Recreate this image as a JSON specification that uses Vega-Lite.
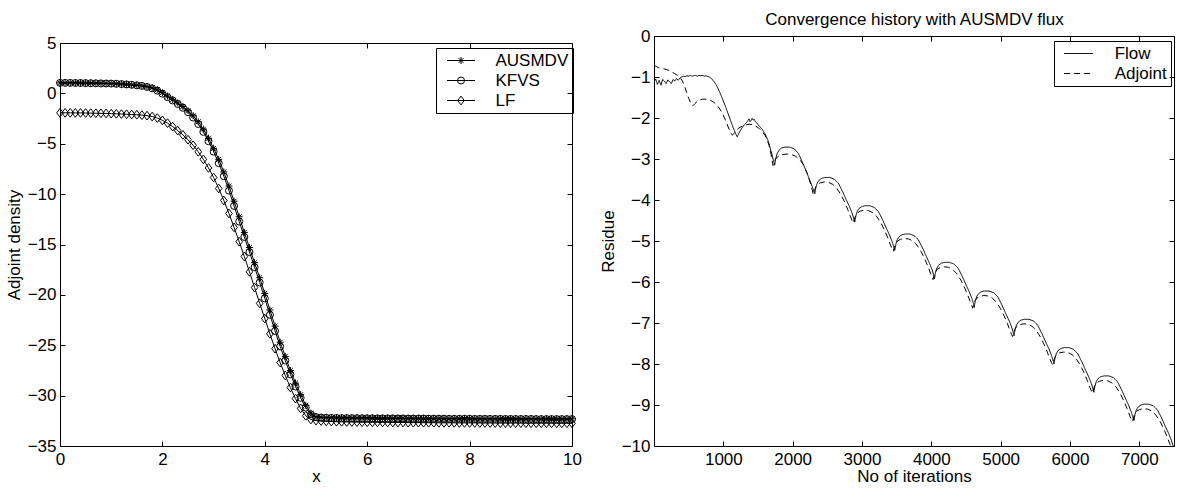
{
"$schema":"https://vega.github.io/schema/vega-lite/v6.json",
"background":"white",
"padding":{"left":5,"top":10,"right":5,"bottom":0},
"spacing":17,
"config":{
 "font":"Liberation Sans",
 "view":{"stroke":null},
 "axis":{"labelFont":"Liberation Sans","titleFont":"Liberation Sans","labelFontSize":17,"titleFontSize":17,"titleFontWeight":"normal","labelColor":"black","titleColor":"black","domainColor":"black","tickColor":"black","domainWidth":1,"tickWidth":1,"tickSize":-5,"grid":false,"labelFlush":false,"labelOverlap":false,"minExtent":0},
 "legend":{"labelFont":"Liberation Sans","labelFontSize":17,"labelColor":"black"}
},
"datasets":{
"adj":[
{"x":0,"m":"AUSMDV","v":1.05},{"x":0.1,"m":"AUSMDV","v":1.05},{"x":0.2,"m":"AUSMDV","v":1.05},{"x":0.3,"m":"AUSMDV","v":1.04},{"x":0.4,"m":"AUSMDV","v":1.04},{"x":0.5,"m":"AUSMDV","v":1.03},{"x":0.6,"m":"AUSMDV","v":1.02},{"x":0.7,"m":"AUSMDV","v":1.01},{"x":0.8,"m":"AUSMDV","v":1.0},{"x":0.9,"m":"AUSMDV","v":0.99},
{"x":1,"m":"AUSMDV","v":0.98},{"x":1.1,"m":"AUSMDV","v":0.96},{"x":1.2,"m":"AUSMDV","v":0.93},{"x":1.3,"m":"AUSMDV","v":0.9},{"x":1.4,"m":"AUSMDV","v":0.86},{"x":1.5,"m":"AUSMDV","v":0.82},{"x":1.6,"m":"AUSMDV","v":0.77},{"x":1.7,"m":"AUSMDV","v":0.68},{"x":1.8,"m":"AUSMDV","v":0.56},{"x":1.9,"m":"AUSMDV","v":0.36},
{"x":2,"m":"AUSMDV","v":0.07},{"x":2.1,"m":"AUSMDV","v":-0.27},{"x":2.2,"m":"AUSMDV","v":-0.6},{"x":2.3,"m":"AUSMDV","v":-0.94},{"x":2.4,"m":"AUSMDV","v":-1.3},{"x":2.5,"m":"AUSMDV","v":-1.72},{"x":2.6,"m":"AUSMDV","v":-2.22},{"x":2.7,"m":"AUSMDV","v":-2.82},{"x":2.8,"m":"AUSMDV","v":-3.55},{"x":2.9,"m":"AUSMDV","v":-4.45},
{"x":3,"m":"AUSMDV","v":-5.45},{"x":3.1,"m":"AUSMDV","v":-6.55},{"x":3.2,"m":"AUSMDV","v":-7.8},{"x":3.3,"m":"AUSMDV","v":-9.2},{"x":3.4,"m":"AUSMDV","v":-10.7},{"x":3.5,"m":"AUSMDV","v":-12.25},{"x":3.6,"m":"AUSMDV","v":-13.8},{"x":3.7,"m":"AUSMDV","v":-15.3},{"x":3.8,"m":"AUSMDV","v":-16.8},{"x":3.9,"m":"AUSMDV","v":-18.3},
{"x":4,"m":"AUSMDV","v":-19.85},{"x":4.1,"m":"AUSMDV","v":-21.5},{"x":4.2,"m":"AUSMDV","v":-23.1},{"x":4.3,"m":"AUSMDV","v":-24.7},{"x":4.4,"m":"AUSMDV","v":-26.1},{"x":4.5,"m":"AUSMDV","v":-27.5},{"x":4.6,"m":"AUSMDV","v":-28.75},{"x":4.7,"m":"AUSMDV","v":-29.9},{"x":4.8,"m":"AUSMDV","v":-30.95},{"x":4.9,"m":"AUSMDV","v":-31.75},
{"x":5,"m":"AUSMDV","v":-32.1},{"x":5.1,"m":"AUSMDV","v":-32.15},{"x":5.2,"m":"AUSMDV","v":-32.17},{"x":5.3,"m":"AUSMDV","v":-32.18},{"x":5.4,"m":"AUSMDV","v":-32.19},{"x":5.5,"m":"AUSMDV","v":-32.2},{"x":5.6,"m":"AUSMDV","v":-32.2},{"x":5.7,"m":"AUSMDV","v":-32.21},{"x":5.8,"m":"AUSMDV","v":-32.21},{"x":5.9,"m":"AUSMDV","v":-32.22},
{"x":6,"m":"AUSMDV","v":-32.22},{"x":6.1,"m":"AUSMDV","v":-32.22},{"x":6.2,"m":"AUSMDV","v":-32.23},{"x":6.3,"m":"AUSMDV","v":-32.23},{"x":6.4,"m":"AUSMDV","v":-32.23},{"x":6.5,"m":"AUSMDV","v":-32.24},{"x":6.6,"m":"AUSMDV","v":-32.24},{"x":6.7,"m":"AUSMDV","v":-32.24},{"x":6.8,"m":"AUSMDV","v":-32.25},{"x":6.9,"m":"AUSMDV","v":-32.25},
{"x":7,"m":"AUSMDV","v":-32.25},{"x":7.1,"m":"AUSMDV","v":-32.25},{"x":7.2,"m":"AUSMDV","v":-32.26},{"x":7.3,"m":"AUSMDV","v":-32.26},{"x":7.4,"m":"AUSMDV","v":-32.26},{"x":7.5,"m":"AUSMDV","v":-32.26},{"x":7.6,"m":"AUSMDV","v":-32.27},{"x":7.7,"m":"AUSMDV","v":-32.27},{"x":7.8,"m":"AUSMDV","v":-32.27},{"x":7.9,"m":"AUSMDV","v":-32.27},
{"x":8,"m":"AUSMDV","v":-32.27},{"x":8.1,"m":"AUSMDV","v":-32.28},{"x":8.2,"m":"AUSMDV","v":-32.28},{"x":8.3,"m":"AUSMDV","v":-32.28},{"x":8.4,"m":"AUSMDV","v":-32.28},{"x":8.5,"m":"AUSMDV","v":-32.28},{"x":8.6,"m":"AUSMDV","v":-32.28},{"x":8.7,"m":"AUSMDV","v":-32.29},{"x":8.8,"m":"AUSMDV","v":-32.29},{"x":8.9,"m":"AUSMDV","v":-32.29},
{"x":9,"m":"AUSMDV","v":-32.29},{"x":9.1,"m":"AUSMDV","v":-32.29},{"x":9.2,"m":"AUSMDV","v":-32.29},{"x":9.3,"m":"AUSMDV","v":-32.3},{"x":9.4,"m":"AUSMDV","v":-32.3},{"x":9.5,"m":"AUSMDV","v":-32.3},{"x":9.6,"m":"AUSMDV","v":-32.3},{"x":9.7,"m":"AUSMDV","v":-32.3},{"x":9.8,"m":"AUSMDV","v":-32.3},{"x":9.9,"m":"AUSMDV","v":-32.3},{"x":10,"m":"AUSMDV","v":-32.3},
{"x":0,"m":"KFVS","v":1.04},{"x":0.1,"m":"KFVS","v":1.04},{"x":0.2,"m":"KFVS","v":1.04},{"x":0.3,"m":"KFVS","v":1.03},{"x":0.4,"m":"KFVS","v":1.03},{"x":0.5,"m":"KFVS","v":1.02},{"x":0.6,"m":"KFVS","v":1.01},{"x":0.7,"m":"KFVS","v":1.0},{"x":0.8,"m":"KFVS","v":0.99},{"x":0.9,"m":"KFVS","v":0.98},
{"x":1,"m":"KFVS","v":0.97},{"x":1.1,"m":"KFVS","v":0.95},{"x":1.2,"m":"KFVS","v":0.92},{"x":1.3,"m":"KFVS","v":0.89},{"x":1.4,"m":"KFVS","v":0.85},{"x":1.5,"m":"KFVS","v":0.8},{"x":1.6,"m":"KFVS","v":0.74},{"x":1.7,"m":"KFVS","v":0.64},{"x":1.8,"m":"KFVS","v":0.5},{"x":1.9,"m":"KFVS","v":0.27},
{"x":2,"m":"KFVS","v":-0.03},{"x":2.1,"m":"KFVS","v":-0.37},{"x":2.2,"m":"KFVS","v":-0.7},{"x":2.3,"m":"KFVS","v":-1.05},{"x":2.4,"m":"KFVS","v":-1.43},{"x":2.5,"m":"KFVS","v":-1.87},{"x":2.6,"m":"KFVS","v":-2.4},{"x":2.7,"m":"KFVS","v":-3.04},{"x":2.8,"m":"KFVS","v":-3.82},{"x":2.9,"m":"KFVS","v":-4.75},
{"x":3,"m":"KFVS","v":-5.78},{"x":3.1,"m":"KFVS","v":-6.93},{"x":3.2,"m":"KFVS","v":-8.22},{"x":3.3,"m":"KFVS","v":-9.65},{"x":3.4,"m":"KFVS","v":-11.17},{"x":3.5,"m":"KFVS","v":-12.72},{"x":3.6,"m":"KFVS","v":-14.25},{"x":3.7,"m":"KFVS","v":-15.75},{"x":3.8,"m":"KFVS","v":-17.25},{"x":3.9,"m":"KFVS","v":-18.77},
{"x":4,"m":"KFVS","v":-20.35},{"x":4.1,"m":"KFVS","v":-21.98},{"x":4.2,"m":"KFVS","v":-23.58},{"x":4.3,"m":"KFVS","v":-25.12},{"x":4.4,"m":"KFVS","v":-26.52},{"x":4.5,"m":"KFVS","v":-27.88},{"x":4.6,"m":"KFVS","v":-29.1},{"x":4.7,"m":"KFVS","v":-30.22},{"x":4.8,"m":"KFVS","v":-31.19},{"x":4.9,"m":"KFVS","v":-31.86},
{"x":5,"m":"KFVS","v":-32.13},{"x":5.1,"m":"KFVS","v":-32.18},{"x":5.2,"m":"KFVS","v":-32.2},{"x":5.3,"m":"KFVS","v":-32.21},{"x":5.4,"m":"KFVS","v":-32.22},{"x":5.5,"m":"KFVS","v":-32.23},{"x":5.6,"m":"KFVS","v":-32.23},{"x":5.7,"m":"KFVS","v":-32.24},{"x":5.8,"m":"KFVS","v":-32.24},{"x":5.9,"m":"KFVS","v":-32.25},
{"x":6,"m":"KFVS","v":-32.25},{"x":6.1,"m":"KFVS","v":-32.25},{"x":6.2,"m":"KFVS","v":-32.26},{"x":6.3,"m":"KFVS","v":-32.26},{"x":6.4,"m":"KFVS","v":-32.26},{"x":6.5,"m":"KFVS","v":-32.27},{"x":6.6,"m":"KFVS","v":-32.27},{"x":6.7,"m":"KFVS","v":-32.27},{"x":6.8,"m":"KFVS","v":-32.28},{"x":6.9,"m":"KFVS","v":-32.28},
{"x":7,"m":"KFVS","v":-32.28},{"x":7.1,"m":"KFVS","v":-32.28},{"x":7.2,"m":"KFVS","v":-32.29},{"x":7.3,"m":"KFVS","v":-32.29},{"x":7.4,"m":"KFVS","v":-32.29},{"x":7.5,"m":"KFVS","v":-32.29},{"x":7.6,"m":"KFVS","v":-32.3},{"x":7.7,"m":"KFVS","v":-32.3},{"x":7.8,"m":"KFVS","v":-32.3},{"x":7.9,"m":"KFVS","v":-32.3},
{"x":8,"m":"KFVS","v":-32.3},{"x":8.1,"m":"KFVS","v":-32.31},{"x":8.2,"m":"KFVS","v":-32.31},{"x":8.3,"m":"KFVS","v":-32.31},{"x":8.4,"m":"KFVS","v":-32.31},{"x":8.5,"m":"KFVS","v":-32.31},{"x":8.6,"m":"KFVS","v":-32.31},{"x":8.7,"m":"KFVS","v":-32.32},{"x":8.8,"m":"KFVS","v":-32.32},{"x":8.9,"m":"KFVS","v":-32.32},
{"x":9,"m":"KFVS","v":-32.32},{"x":9.1,"m":"KFVS","v":-32.32},{"x":9.2,"m":"KFVS","v":-32.32},{"x":9.3,"m":"KFVS","v":-32.33},{"x":9.4,"m":"KFVS","v":-32.33},{"x":9.5,"m":"KFVS","v":-32.33},{"x":9.6,"m":"KFVS","v":-32.33},{"x":9.7,"m":"KFVS","v":-32.33},{"x":9.8,"m":"KFVS","v":-32.33},{"x":9.9,"m":"KFVS","v":-32.33},{"x":10,"m":"KFVS","v":-32.33},
{"x":0,"m":"LF","v":-1.93},{"x":0.1,"m":"LF","v":-1.93},{"x":0.2,"m":"LF","v":-1.93},{"x":0.3,"m":"LF","v":-1.94},{"x":0.4,"m":"LF","v":-1.94},{"x":0.5,"m":"LF","v":-1.95},{"x":0.6,"m":"LF","v":-1.96},{"x":0.7,"m":"LF","v":-1.97},{"x":0.8,"m":"LF","v":-1.98},{"x":0.9,"m":"LF","v":-1.99},
{"x":1,"m":"LF","v":-2.01},{"x":1.1,"m":"LF","v":-2.03},{"x":1.2,"m":"LF","v":-2.05},{"x":1.3,"m":"LF","v":-2.07},{"x":1.4,"m":"LF","v":-2.1},{"x":1.5,"m":"LF","v":-2.12},{"x":1.6,"m":"LF","v":-2.16},{"x":1.7,"m":"LF","v":-2.21},{"x":1.8,"m":"LF","v":-2.3},{"x":1.9,"m":"LF","v":-2.45},
{"x":2,"m":"LF","v":-2.68},{"x":2.1,"m":"LF","v":-2.95},{"x":2.2,"m":"LF","v":-3.3},{"x":2.3,"m":"LF","v":-3.7},{"x":2.4,"m":"LF","v":-4.12},{"x":2.5,"m":"LF","v":-4.6},{"x":2.6,"m":"LF","v":-5.15},{"x":2.7,"m":"LF","v":-5.8},{"x":2.8,"m":"LF","v":-6.55},{"x":2.9,"m":"LF","v":-7.4},
{"x":3,"m":"LF","v":-8.35},{"x":3.1,"m":"LF","v":-9.44},{"x":3.2,"m":"LF","v":-10.63},{"x":3.3,"m":"LF","v":-11.92},{"x":3.4,"m":"LF","v":-13.3},{"x":3.5,"m":"LF","v":-14.72},{"x":3.6,"m":"LF","v":-16.19},{"x":3.7,"m":"LF","v":-17.71},{"x":3.8,"m":"LF","v":-19.27},{"x":3.9,"m":"LF","v":-20.84},
{"x":4,"m":"LF","v":-22.35},{"x":4.1,"m":"LF","v":-23.87},{"x":4.2,"m":"LF","v":-25.34},{"x":4.3,"m":"LF","v":-26.72},{"x":4.4,"m":"LF","v":-28.0},{"x":4.5,"m":"LF","v":-29.2},{"x":4.6,"m":"LF","v":-30.3},{"x":4.7,"m":"LF","v":-31.27},{"x":4.8,"m":"LF","v":-32.0},{"x":4.9,"m":"LF","v":-32.37},
{"x":5,"m":"LF","v":-32.48},{"x":5.1,"m":"LF","v":-32.52},{"x":5.2,"m":"LF","v":-32.55},{"x":5.3,"m":"LF","v":-32.57},{"x":5.4,"m":"LF","v":-32.59},{"x":5.5,"m":"LF","v":-32.6},{"x":5.6,"m":"LF","v":-32.61},{"x":5.7,"m":"LF","v":-32.62},{"x":5.8,"m":"LF","v":-32.63},{"x":5.9,"m":"LF","v":-32.64},
{"x":6,"m":"LF","v":-32.64},{"x":6.1,"m":"LF","v":-32.65},{"x":6.2,"m":"LF","v":-32.65},{"x":6.3,"m":"LF","v":-32.66},{"x":6.4,"m":"LF","v":-32.66},{"x":6.5,"m":"LF","v":-32.67},{"x":6.6,"m":"LF","v":-32.67},{"x":6.7,"m":"LF","v":-32.67},{"x":6.8,"m":"LF","v":-32.68},{"x":6.9,"m":"LF","v":-32.68},
{"x":7,"m":"LF","v":-32.68},{"x":7.1,"m":"LF","v":-32.69},{"x":7.2,"m":"LF","v":-32.69},{"x":7.3,"m":"LF","v":-32.69},{"x":7.4,"m":"LF","v":-32.7},{"x":7.5,"m":"LF","v":-32.7},{"x":7.6,"m":"LF","v":-32.7},{"x":7.7,"m":"LF","v":-32.7},{"x":7.8,"m":"LF","v":-32.71},{"x":7.9,"m":"LF","v":-32.71},
{"x":8,"m":"LF","v":-32.71},{"x":8.1,"m":"LF","v":-32.71},{"x":8.2,"m":"LF","v":-32.72},{"x":8.3,"m":"LF","v":-32.72},{"x":8.4,"m":"LF","v":-32.72},{"x":8.5,"m":"LF","v":-32.72},{"x":8.6,"m":"LF","v":-32.73},{"x":8.7,"m":"LF","v":-32.73},{"x":8.8,"m":"LF","v":-32.73},{"x":8.9,"m":"LF","v":-32.73},
{"x":9,"m":"LF","v":-32.73},{"x":9.1,"m":"LF","v":-32.74},{"x":9.2,"m":"LF","v":-32.74},{"x":9.3,"m":"LF","v":-32.74},{"x":9.4,"m":"LF","v":-32.74},{"x":9.5,"m":"LF","v":-32.74},{"x":9.6,"m":"LF","v":-32.75},{"x":9.7,"m":"LF","v":-32.75},{"x":9.8,"m":"LF","v":-32.75},{"x":9.9,"m":"LF","v":-32.75},{"x":10,"m":"LF","v":-32.75}
],
"flow":[
{"it":0,"r":-1.12,"s":"Flow"},{"it":25,"r":-1.05,"s":"Flow"},{"it":50,"r":-1.18,"s":"Flow"},{"it":75,"r":-1.08,"s":"Flow"},{"it":100,"r":-1.2,"s":"Flow"},{"it":125,"r":-1.06,"s":"Flow"},{"it":150,"r":-1.1,"s":"Flow"},{"it":175,"r":-1.16,"s":"Flow"},{"it":200,"r":-1.07,"s":"Flow"},{"it":225,"r":-1.12,"s":"Flow"},{"it":250,"r":-1.16,"s":"Flow"},{"it":275,"r":-1.06,"s":"Flow"},{"it":300,"r":-1.1,"s":"Flow"},{"it":325,"r":-1.04,"s":"Flow"},{"it":350,"r":-1.08,"s":"Flow"},{"it":375,"r":-1.02,"s":"Flow"},{"it":400,"r":-1.0,"s":"Flow"},{"it":425,"r":-0.98,"s":"Flow"},{"it":450,"r":-0.99,"s":"Flow"},{"it":475,"r":-0.97,"s":"Flow"},{"it":500,"r":-0.98,"s":"Flow"},{"it":525,"r":-0.96,"s":"Flow"},{"it":550,"r":-0.98,"s":"Flow"},{"it":575,"r":-0.97,"s":"Flow"},{"it":600,"r":-0.96,"s":"Flow"},{"it":625,"r":-0.98,"s":"Flow"},{"it":650,"r":-0.96,"s":"Flow"},{"it":675,"r":-0.97,"s":"Flow"},{"it":700,"r":-0.96,"s":"Flow"},{"it":725,"r":-0.98,"s":"Flow"},{"it":750,"r":-0.97,"s":"Flow"},{"it":775,"r":-0.99,"s":"Flow"},{"it":800,"r":-1.0,"s":"Flow"},{"it":830,"r":-1.04,"s":"Flow"},{"it":860,"r":-1.1,"s":"Flow"},{"it":890,"r":-1.17,"s":"Flow"},{"it":920,"r":-1.27,"s":"Flow"},{"it":950,"r":-1.38,"s":"Flow"},{"it":980,"r":-1.5,"s":"Flow"},{"it":1010,"r":-1.63,"s":"Flow"},{"it":1040,"r":-1.76,"s":"Flow"},{"it":1070,"r":-1.9,"s":"Flow"},{"it":1100,"r":-2.04,"s":"Flow"},{"it":1130,"r":-2.18,"s":"Flow"},{"it":1160,"r":-2.31,"s":"Flow"},{"it":1185,"r":-2.41,"s":"Flow"},{"it":1200,"r":-2.46,"s":"Flow"},{"it":1215,"r":-2.4,"s":"Flow"},{"it":1240,"r":-2.32,"s":"Flow"},{"it":1270,"r":-2.24,"s":"Flow"},{"it":1300,"r":-2.17,"s":"Flow"},{"it":1330,"r":-2.12,"s":"Flow"},{"it":1350,"r":-2.08,"s":"Flow"},{"it":1370,"r":-2.02,"s":"Flow"},{"it":1385,"r":-2.09,"s":"Flow"},{"it":1400,"r":-2.06,"s":"Flow"},{"it":1415,"r":-2.01,"s":"Flow"},{"it":1430,"r":-2.05,"s":"Flow"},{"it":1445,"r":-2.03,"s":"Flow"},{"it":1460,"r":-2.08,"s":"Flow"},{"it":1480,"r":-2.12,"s":"Flow"},{"it":1500,"r":-2.16,"s":"Flow"},{"it":1520,"r":-2.2,"s":"Flow"},{"it":1540,"r":-2.24,"s":"Flow"},{"it":1560,"r":-2.27,"s":"Flow"},{"it":1580,"r":-2.33,"s":"Flow"},{"it":1600,"r":-2.38,"s":"Flow"},{"it":1620,"r":-2.45,"s":"Flow"},{"it":1640,"r":-2.53,"s":"Flow"},{"it":1660,"r":-2.63,"s":"Flow"},{"it":1680,"r":-2.76,"s":"Flow"},{"it":1700,"r":-2.88,"s":"Flow"},{"it":1720,"r":-3.02,"s":"Flow"},{"it":1741,"r":-3.15,"s":"Flow"},{"it":1756,"r":-2.99,"s":"Flow"},{"it":1776,"r":-2.87,"s":"Flow"},{"it":1801,"r":-2.79,"s":"Flow"},{"it":1841,"r":-2.73,"s":"Flow"},{"it":1891,"r":-2.71,"s":"Flow"},{"it":1956,"r":-2.71,"s":"Flow"},{"it":2021,"r":-2.75,"s":"Flow"},{"it":2081,"r":-2.86,"s":"Flow"},{"it":2141,"r":-3.08,"s":"Flow"},{"it":2191,"r":-3.28,"s":"Flow"},{"it":2241,"r":-3.49,"s":"Flow"},{"it":2281,"r":-3.67,"s":"Flow"},{"it":2301,"r":-3.76,"s":"Flow"},
{"it":2319,"r":-3.85,"s":"Flow"},{"it":2334,"r":-3.7,"s":"Flow"},{"it":2354,"r":-3.59,"s":"Flow"},{"it":2379,"r":-3.52,"s":"Flow"},{"it":2419,"r":-3.47,"s":"Flow"},{"it":2469,"r":-3.45,"s":"Flow"},{"it":2534,"r":-3.45,"s":"Flow"},{"it":2599,"r":-3.49,"s":"Flow"},{"it":2659,"r":-3.59,"s":"Flow"},{"it":2719,"r":-3.79,"s":"Flow"},{"it":2769,"r":-3.98,"s":"Flow"},{"it":2819,"r":-4.16,"s":"Flow"},{"it":2859,"r":-4.33,"s":"Flow"},{"it":2879,"r":-4.44,"s":"Flow"},
{"it":2896,"r":-4.54,"s":"Flow"},{"it":2911,"r":-4.39,"s":"Flow"},{"it":2931,"r":-4.28,"s":"Flow"},{"it":2956,"r":-4.21,"s":"Flow"},{"it":2996,"r":-4.16,"s":"Flow"},{"it":3046,"r":-4.14,"s":"Flow"},{"it":3111,"r":-4.14,"s":"Flow"},{"it":3176,"r":-4.18,"s":"Flow"},{"it":3236,"r":-4.28,"s":"Flow"},{"it":3296,"r":-4.48,"s":"Flow"},{"it":3346,"r":-4.67,"s":"Flow"},{"it":3396,"r":-4.85,"s":"Flow"},{"it":3436,"r":-5.02,"s":"Flow"},{"it":3456,"r":-5.13,"s":"Flow"},
{"it":3473,"r":-5.23,"s":"Flow"},{"it":3488,"r":-5.08,"s":"Flow"},{"it":3508,"r":-4.97,"s":"Flow"},{"it":3533,"r":-4.9,"s":"Flow"},{"it":3573,"r":-4.85,"s":"Flow"},{"it":3623,"r":-4.83,"s":"Flow"},{"it":3688,"r":-4.83,"s":"Flow"},{"it":3753,"r":-4.87,"s":"Flow"},{"it":3813,"r":-4.97,"s":"Flow"},{"it":3873,"r":-5.17,"s":"Flow"},{"it":3923,"r":-5.36,"s":"Flow"},{"it":3973,"r":-5.54,"s":"Flow"},{"it":4013,"r":-5.71,"s":"Flow"},{"it":4033,"r":-5.82,"s":"Flow"},
{"it":4045,"r":-5.92,"s":"Flow"},{"it":4060,"r":-5.77,"s":"Flow"},{"it":4080,"r":-5.66,"s":"Flow"},{"it":4105,"r":-5.59,"s":"Flow"},{"it":4145,"r":-5.54,"s":"Flow"},{"it":4195,"r":-5.52,"s":"Flow"},{"it":4260,"r":-5.52,"s":"Flow"},{"it":4325,"r":-5.56,"s":"Flow"},{"it":4385,"r":-5.66,"s":"Flow"},{"it":4445,"r":-5.86,"s":"Flow"},{"it":4495,"r":-6.05,"s":"Flow"},{"it":4545,"r":-6.23,"s":"Flow"},{"it":4585,"r":-6.4,"s":"Flow"},{"it":4605,"r":-6.51,"s":"Flow"},
{"it":4618,"r":-6.62,"s":"Flow"},{"it":4633,"r":-6.47,"s":"Flow"},{"it":4653,"r":-6.36,"s":"Flow"},{"it":4678,"r":-6.29,"s":"Flow"},{"it":4718,"r":-6.24,"s":"Flow"},{"it":4768,"r":-6.22,"s":"Flow"},{"it":4833,"r":-6.22,"s":"Flow"},{"it":4898,"r":-6.26,"s":"Flow"},{"it":4958,"r":-6.36,"s":"Flow"},{"it":5018,"r":-6.56,"s":"Flow"},{"it":5068,"r":-6.75,"s":"Flow"},{"it":5118,"r":-6.93,"s":"Flow"},{"it":5158,"r":-7.1,"s":"Flow"},{"it":5178,"r":-7.21,"s":"Flow"},
{"it":5193,"r":-7.31,"s":"Flow"},{"it":5208,"r":-7.16,"s":"Flow"},{"it":5228,"r":-7.05,"s":"Flow"},{"it":5253,"r":-6.98,"s":"Flow"},{"it":5293,"r":-6.93,"s":"Flow"},{"it":5343,"r":-6.91,"s":"Flow"},{"it":5408,"r":-6.91,"s":"Flow"},{"it":5473,"r":-6.95,"s":"Flow"},{"it":5533,"r":-7.05,"s":"Flow"},{"it":5593,"r":-7.25,"s":"Flow"},{"it":5643,"r":-7.44,"s":"Flow"},{"it":5693,"r":-7.62,"s":"Flow"},{"it":5733,"r":-7.79,"s":"Flow"},{"it":5753,"r":-7.9,"s":"Flow"},
{"it":5769,"r":-8.0,"s":"Flow"},{"it":5784,"r":-7.85,"s":"Flow"},{"it":5804,"r":-7.74,"s":"Flow"},{"it":5829,"r":-7.67,"s":"Flow"},{"it":5869,"r":-7.62,"s":"Flow"},{"it":5919,"r":-7.6,"s":"Flow"},{"it":5984,"r":-7.6,"s":"Flow"},{"it":6049,"r":-7.64,"s":"Flow"},{"it":6109,"r":-7.74,"s":"Flow"},{"it":6169,"r":-7.94,"s":"Flow"},{"it":6219,"r":-8.13,"s":"Flow"},{"it":6269,"r":-8.31,"s":"Flow"},{"it":6309,"r":-8.48,"s":"Flow"},{"it":6329,"r":-8.59,"s":"Flow"},
{"it":6344,"r":-8.69,"s":"Flow"},{"it":6359,"r":-8.54,"s":"Flow"},{"it":6379,"r":-8.43,"s":"Flow"},{"it":6404,"r":-8.36,"s":"Flow"},{"it":6444,"r":-8.31,"s":"Flow"},{"it":6494,"r":-8.29,"s":"Flow"},{"it":6559,"r":-8.29,"s":"Flow"},{"it":6624,"r":-8.33,"s":"Flow"},{"it":6684,"r":-8.43,"s":"Flow"},{"it":6744,"r":-8.63,"s":"Flow"},{"it":6794,"r":-8.82,"s":"Flow"},{"it":6844,"r":-9.0,"s":"Flow"},{"it":6884,"r":-9.17,"s":"Flow"},{"it":6904,"r":-9.28,"s":"Flow"},
{"it":6922,"r":-9.38,"s":"Flow"},{"it":6937,"r":-9.23,"s":"Flow"},{"it":6957,"r":-9.12,"s":"Flow"},{"it":6982,"r":-9.05,"s":"Flow"},{"it":7022,"r":-9.0,"s":"Flow"},{"it":7072,"r":-8.98,"s":"Flow"},{"it":7137,"r":-8.98,"s":"Flow"},{"it":7202,"r":-9.02,"s":"Flow"},{"it":7262,"r":-9.12,"s":"Flow"},{"it":7322,"r":-9.32,"s":"Flow"},{"it":7372,"r":-9.51,"s":"Flow"},{"it":7422,"r":-9.69,"s":"Flow"},{"it":7462,"r":-9.86,"s":"Flow"},{"it":7482,"r":-9.97,"s":"Flow"},{"it":7497,"r":-10.07,"s":"Flow"}
],
"adjoint":[
{"it":0,"r":-0.72,"s":"Adjoint"},{"it":30,"r":-0.74,"s":"Adjoint"},{"it":60,"r":-0.77,"s":"Adjoint"},{"it":100,"r":-0.79,"s":"Adjoint"},{"it":140,"r":-0.8,"s":"Adjoint"},{"it":180,"r":-0.82,"s":"Adjoint"},{"it":220,"r":-0.84,"s":"Adjoint"},{"it":260,"r":-0.88,"s":"Adjoint"},{"it":300,"r":-0.92,"s":"Adjoint"},{"it":340,"r":-0.96,"s":"Adjoint"},{"it":380,"r":-1.02,"s":"Adjoint"},{"it":410,"r":-1.1,"s":"Adjoint"},{"it":440,"r":-1.22,"s":"Adjoint"},{"it":470,"r":-1.37,"s":"Adjoint"},{"it":500,"r":-1.52,"s":"Adjoint"},{"it":530,"r":-1.63,"s":"Adjoint"},{"it":563,"r":-1.7,"s":"Adjoint"},{"it":590,"r":-1.65,"s":"Adjoint"},{"it":620,"r":-1.6,"s":"Adjoint"},{"it":660,"r":-1.56,"s":"Adjoint"},{"it":700,"r":-1.54,"s":"Adjoint"},{"it":750,"r":-1.54,"s":"Adjoint"},{"it":800,"r":-1.56,"s":"Adjoint"},{"it":850,"r":-1.6,"s":"Adjoint"},{"it":900,"r":-1.67,"s":"Adjoint"},{"it":950,"r":-1.78,"s":"Adjoint"},{"it":990,"r":-1.9,"s":"Adjoint"},{"it":1030,"r":-2.05,"s":"Adjoint"},{"it":1070,"r":-2.22,"s":"Adjoint"},{"it":1100,"r":-2.34,"s":"Adjoint"},{"it":1130,"r":-2.42,"s":"Adjoint"},{"it":1150,"r":-2.38,"s":"Adjoint"},{"it":1180,"r":-2.31,"s":"Adjoint"},{"it":1220,"r":-2.25,"s":"Adjoint"},{"it":1270,"r":-2.2,"s":"Adjoint"},{"it":1320,"r":-2.17,"s":"Adjoint"},{"it":1370,"r":-2.15,"s":"Adjoint"},{"it":1420,"r":-2.16,"s":"Adjoint"},{"it":1470,"r":-2.2,"s":"Adjoint"},{"it":1520,"r":-2.26,"s":"Adjoint"},{"it":1560,"r":-2.33,"s":"Adjoint"},{"it":1600,"r":-2.42,"s":"Adjoint"},{"it":1630,"r":-2.52,"s":"Adjoint"},{"it":1660,"r":-2.67,"s":"Adjoint"},{"it":1690,"r":-2.9,"s":"Adjoint"},{"it":1717,"r":-3.16,"s":"Adjoint"},{"it":1735,"r":-3.05,"s":"Adjoint"},{"it":1760,"r":-2.98,"s":"Adjoint"},{"it":1800,"r":-2.93,"s":"Adjoint"},{"it":1860,"r":-2.89,"s":"Adjoint"},{"it":1920,"r":-2.88,"s":"Adjoint"},{"it":1980,"r":-2.89,"s":"Adjoint"},{"it":2040,"r":-2.93,"s":"Adjoint"},{"it":2100,"r":-3.01,"s":"Adjoint"},{"it":2160,"r":-3.15,"s":"Adjoint"},{"it":2210,"r":-3.35,"s":"Adjoint"},{"it":2250,"r":-3.56,"s":"Adjoint"},{"it":2280,"r":-3.74,"s":"Adjoint"},
{"it":2297,"r":-3.87,"s":"Adjoint"},{"it":2314,"r":-3.77,"s":"Adjoint"},{"it":2334,"r":-3.68,"s":"Adjoint"},{"it":2359,"r":-3.62,"s":"Adjoint"},{"it":2399,"r":-3.58,"s":"Adjoint"},{"it":2459,"r":-3.56,"s":"Adjoint"},{"it":2519,"r":-3.57,"s":"Adjoint"},{"it":2579,"r":-3.62,"s":"Adjoint"},{"it":2639,"r":-3.72,"s":"Adjoint"},{"it":2699,"r":-3.88,"s":"Adjoint"},{"it":2749,"r":-4.05,"s":"Adjoint"},{"it":2799,"r":-4.25,"s":"Adjoint"},{"it":2839,"r":-4.43,"s":"Adjoint"},{"it":2859,"r":-4.51,"s":"Adjoint"},
{"it":2874,"r":-4.56,"s":"Adjoint"},{"it":2891,"r":-4.46,"s":"Adjoint"},{"it":2911,"r":-4.37,"s":"Adjoint"},{"it":2936,"r":-4.31,"s":"Adjoint"},{"it":2976,"r":-4.27,"s":"Adjoint"},{"it":3036,"r":-4.25,"s":"Adjoint"},{"it":3096,"r":-4.26,"s":"Adjoint"},{"it":3156,"r":-4.31,"s":"Adjoint"},{"it":3216,"r":-4.41,"s":"Adjoint"},{"it":3276,"r":-4.57,"s":"Adjoint"},{"it":3326,"r":-4.74,"s":"Adjoint"},{"it":3376,"r":-4.94,"s":"Adjoint"},{"it":3416,"r":-5.12,"s":"Adjoint"},{"it":3436,"r":-5.2,"s":"Adjoint"},
{"it":3451,"r":-5.25,"s":"Adjoint"},{"it":3468,"r":-5.15,"s":"Adjoint"},{"it":3488,"r":-5.06,"s":"Adjoint"},{"it":3513,"r":-5.0,"s":"Adjoint"},{"it":3553,"r":-4.96,"s":"Adjoint"},{"it":3613,"r":-4.94,"s":"Adjoint"},{"it":3673,"r":-4.95,"s":"Adjoint"},{"it":3733,"r":-5.0,"s":"Adjoint"},{"it":3793,"r":-5.1,"s":"Adjoint"},{"it":3853,"r":-5.26,"s":"Adjoint"},{"it":3903,"r":-5.43,"s":"Adjoint"},{"it":3953,"r":-5.63,"s":"Adjoint"},{"it":3993,"r":-5.81,"s":"Adjoint"},{"it":4013,"r":-5.89,"s":"Adjoint"},
{"it":4023,"r":-5.94,"s":"Adjoint"},{"it":4040,"r":-5.84,"s":"Adjoint"},{"it":4060,"r":-5.75,"s":"Adjoint"},{"it":4085,"r":-5.69,"s":"Adjoint"},{"it":4125,"r":-5.65,"s":"Adjoint"},{"it":4185,"r":-5.63,"s":"Adjoint"},{"it":4245,"r":-5.64,"s":"Adjoint"},{"it":4305,"r":-5.69,"s":"Adjoint"},{"it":4365,"r":-5.79,"s":"Adjoint"},{"it":4425,"r":-5.95,"s":"Adjoint"},{"it":4475,"r":-6.12,"s":"Adjoint"},{"it":4525,"r":-6.32,"s":"Adjoint"},{"it":4565,"r":-6.5,"s":"Adjoint"},{"it":4585,"r":-6.58,"s":"Adjoint"},
{"it":4596,"r":-6.64,"s":"Adjoint"},{"it":4613,"r":-6.54,"s":"Adjoint"},{"it":4633,"r":-6.45,"s":"Adjoint"},{"it":4658,"r":-6.39,"s":"Adjoint"},{"it":4698,"r":-6.35,"s":"Adjoint"},{"it":4758,"r":-6.33,"s":"Adjoint"},{"it":4818,"r":-6.34,"s":"Adjoint"},{"it":4878,"r":-6.39,"s":"Adjoint"},{"it":4938,"r":-6.49,"s":"Adjoint"},{"it":4998,"r":-6.65,"s":"Adjoint"},{"it":5048,"r":-6.82,"s":"Adjoint"},{"it":5098,"r":-7.02,"s":"Adjoint"},{"it":5138,"r":-7.2,"s":"Adjoint"},{"it":5158,"r":-7.28,"s":"Adjoint"},
{"it":5171,"r":-7.33,"s":"Adjoint"},{"it":5188,"r":-7.23,"s":"Adjoint"},{"it":5208,"r":-7.14,"s":"Adjoint"},{"it":5233,"r":-7.08,"s":"Adjoint"},{"it":5273,"r":-7.04,"s":"Adjoint"},{"it":5333,"r":-7.02,"s":"Adjoint"},{"it":5393,"r":-7.03,"s":"Adjoint"},{"it":5453,"r":-7.08,"s":"Adjoint"},{"it":5513,"r":-7.18,"s":"Adjoint"},{"it":5573,"r":-7.34,"s":"Adjoint"},{"it":5623,"r":-7.51,"s":"Adjoint"},{"it":5673,"r":-7.71,"s":"Adjoint"},{"it":5713,"r":-7.89,"s":"Adjoint"},{"it":5733,"r":-7.97,"s":"Adjoint"},
{"it":5747,"r":-8.02,"s":"Adjoint"},{"it":5764,"r":-7.92,"s":"Adjoint"},{"it":5784,"r":-7.83,"s":"Adjoint"},{"it":5809,"r":-7.77,"s":"Adjoint"},{"it":5849,"r":-7.73,"s":"Adjoint"},{"it":5909,"r":-7.71,"s":"Adjoint"},{"it":5969,"r":-7.72,"s":"Adjoint"},{"it":6029,"r":-7.77,"s":"Adjoint"},{"it":6089,"r":-7.87,"s":"Adjoint"},{"it":6149,"r":-8.03,"s":"Adjoint"},{"it":6199,"r":-8.2,"s":"Adjoint"},{"it":6249,"r":-8.4,"s":"Adjoint"},{"it":6289,"r":-8.58,"s":"Adjoint"},{"it":6309,"r":-8.66,"s":"Adjoint"},
{"it":6322,"r":-8.71,"s":"Adjoint"},{"it":6339,"r":-8.61,"s":"Adjoint"},{"it":6359,"r":-8.52,"s":"Adjoint"},{"it":6384,"r":-8.46,"s":"Adjoint"},{"it":6424,"r":-8.42,"s":"Adjoint"},{"it":6484,"r":-8.4,"s":"Adjoint"},{"it":6544,"r":-8.41,"s":"Adjoint"},{"it":6604,"r":-8.46,"s":"Adjoint"},{"it":6664,"r":-8.56,"s":"Adjoint"},{"it":6724,"r":-8.72,"s":"Adjoint"},{"it":6774,"r":-8.89,"s":"Adjoint"},{"it":6824,"r":-9.09,"s":"Adjoint"},{"it":6864,"r":-9.27,"s":"Adjoint"},{"it":6884,"r":-9.35,"s":"Adjoint"},
{"it":6900,"r":-9.4,"s":"Adjoint"},{"it":6917,"r":-9.3,"s":"Adjoint"},{"it":6937,"r":-9.21,"s":"Adjoint"},{"it":6962,"r":-9.15,"s":"Adjoint"},{"it":7002,"r":-9.11,"s":"Adjoint"},{"it":7062,"r":-9.09,"s":"Adjoint"},{"it":7122,"r":-9.1,"s":"Adjoint"},{"it":7182,"r":-9.15,"s":"Adjoint"},{"it":7242,"r":-9.25,"s":"Adjoint"},{"it":7302,"r":-9.41,"s":"Adjoint"},{"it":7352,"r":-9.58,"s":"Adjoint"},{"it":7402,"r":-9.78,"s":"Adjoint"},{"it":7442,"r":-9.96,"s":"Adjoint"},{"it":7462,"r":-10.04,"s":"Adjoint"},{"it":7475,"r":-10.09,"s":"Adjoint"}
]
},
"hconcat":[
{
 "width":512,"height":410,
 "layer":[
  {
   "data":{"name":"adj"},
   "mark":{"type":"line","color":"black","strokeWidth":1},
   "encoding":{
    "x":{"field":"x","type":"quantitative","scale":{"domain":[0,10],"nice":false,"zero":false},"axis":{"orient":"bottom","values":[0,2,4,6,8,10],"format":"d","title":"x","labelPadding":10,"titlePadding":1}},
    "y":{"field":"v","type":"quantitative","scale":{"domain":[-35,5],"nice":false,"zero":false,"range":[410,7]},"axis":{"orient":"left","values":[-35,-30,-25,-20,-15,-10,-5,0,5],"format":"d","title":"Adjoint density","labelPadding":9,"titlePadding":4}},
    "color":{"field":"m","type":"nominal","scale":{"domain":["AUSMDV","KFVS","LF"],"range":["black","black","black"]},
      "legend":{"orient":"none","legendX":376,"legendY":12,"title":null,"symbolType":"M-3.5,0H3.5","symbolSize":64,"symbolStrokeWidth":1,"symbolOffset":12.5,"labelOffset":26,"padding":4,"rowPadding":2,"strokeColor":"black"}}
   }
  },
  {
   "data":{"name":"adj"},
   "mark":{"type":"point","filled":false,"color":"black","size":49,"strokeWidth":1,"opacity":1},
   "encoding":{
    "x":{"field":"x","type":"quantitative","axis":{"orient":"top","values":[0,2,4,6,8,10],"labels":false,"title":null,"offset":-7}},
    "y":{"field":"v","type":"quantitative","axis":{"orient":"right","values":[-35,-30,-25,-20,-15,-10,-5,0,5],"labels":false,"title":null}},
    "shape":{"field":"m","type":"nominal","scale":{"range":["M-1,0L1,0M0,-1L0,1M-0.7,-0.7L0.7,0.7M-0.7,0.7L0.7,-0.7","circle","M0,-1.25L0.95,0L0,1.25L-0.95,0Z"]},
      "legend":{"orient":"none","legendX":376,"legendY":12,"title":null,"symbolSize":49,"symbolStrokeWidth":1,"symbolOffset":12.5,"labelOffset":26,"padding":4,"rowPadding":2,"labelOpacity":0}}
   }
  }
 ],
 "resolve":{"axis":{"x":"independent","y":"independent"}}
},
{
 "width":520,"height":410,
 "layer":[
  {
   "data":{"name":"flow"},
   "mark":{"type":"line","color":"black","strokeWidth":1,"clip":true},
   "encoding":{
    "x":{"field":"it","type":"quantitative","scale":{"domain":[0,7500],"nice":false,"zero":false},"axis":{"orient":"bottom","values":[1000,2000,3000,4000,5000,6000,7000],"format":"d","title":"No of iterations","labelPadding":10,"titlePadding":1}},
    "y":{"field":"r","type":"quantitative","scale":{"domain":[-10,0],"nice":false,"zero":false},"axis":{"orient":"left","values":[-10,-9,-8,-7,-6,-5,-4,-3,-2,-1,0],"format":"d","title":"Residue","labelPadding":9,"titlePadding":4}},
    "strokeDash":{"field":"s","type":"nominal","scale":{"domain":["Flow","Adjoint"],"range":[[1,0],[6,4]]},
      "legend":{"orient":"none","legendX":994,"legendY":5,"title":null,"symbolType":"M-3.6,0H3.6","symbolSize":64,"symbolStrokeWidth":1,"symbolStrokeColor":"black","symbolOffset":12,"labelOffset":27.7,"padding":4,"rowPadding":2,"strokeColor":"black"}}
   }
  },
  {
   "data":{"name":"adjoint"},
   "mark":{"type":"line","color":"black","strokeWidth":1,"clip":true},
   "encoding":{
    "x":{"field":"it","type":"quantitative","axis":{"orient":"top","values":[1000,2000,3000,4000,5000,6000,7000],"labels":false,"title":"Convergence history with AUSMDV flux","titlePadding":7,"titleBaseline":"bottom"}},
    "y":{"field":"r","type":"quantitative","axis":{"orient":"right","values":[-10,-9,-8,-7,-6,-5,-4,-3,-2,-1,0],"labels":false,"title":null}},
    "strokeDash":{"field":"s","type":"nominal","scale":{"domain":["Flow","Adjoint"],"range":[[1,0],[6,4]]}}
   }
  }
 ],
 "resolve":{"axis":{"x":"independent","y":"independent"}}
}
]
}
